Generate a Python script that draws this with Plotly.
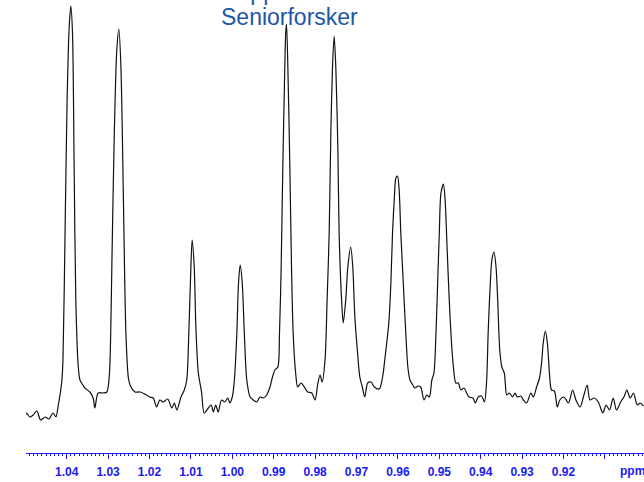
import plotly.graph_objects as go

# Chemical shift (ppm) and intensity (arbitrary units)
ppm = [
    1.0501, 1.0497, 1.0489, 1.0481, 1.0472, 1.0463, 1.0452, 1.0443, 1.0433, 1.0426,
    1.0421, 1.0412, 1.0409, 1.0404, 1.0399, 1.0394, 1.0390, 1.0386, 1.0382, 1.0378,
    1.0372, 1.0368, 1.0364, 1.0356, 1.0344, 1.0336, 1.0332, 1.0324, 1.0312, 1.0303,
    1.0297, 1.0294, 1.0291, 1.0285, 1.0279, 1.0274, 1.0269, 1.0263, 1.0257, 1.0251,
    1.0247, 1.0235, 1.0223, 1.0207, 1.0199, 1.0191, 1.0183, 1.0175, 1.0167, 1.0156,
    1.0146, 1.0140, 1.0134, 1.0124, 1.0116, 1.0110, 1.0105, 1.0100, 1.0097, 1.0092,
    1.0088, 1.0082, 1.0074, 1.0068, 1.0058, 1.0051, 1.0046, 1.0040, 1.0034, 1.0026,
    1.0018, 1.0011, 1.0006, 1.0000, 0.9995, 0.9989, 0.9985, 0.9981, 0.9976, 0.9971,
    0.9965, 0.9957, 0.9949, 0.9941, 0.9933, 0.9925, 0.9917, 0.9909, 0.9903, 0.9897,
    0.9890, 0.9886, 0.9882, 0.9878, 0.9874, 0.9871, 0.9869, 0.9865, 0.9861, 0.9857,
    0.9853, 0.9847, 0.9842, 0.9834, 0.9826, 0.9818, 0.9808, 0.9800, 0.9794, 0.9788,
    0.9783, 0.9776, 0.9771, 0.9766, 0.9762, 0.9758, 0.9754, 0.9750, 0.9745, 0.9742,
    0.9736, 0.9732, 0.9726, 0.9721, 0.9714, 0.9709, 0.9704, 0.9698, 0.9692, 0.9686,
    0.9680, 0.9673, 0.9665, 0.9657, 0.9645, 0.9637, 0.9631, 0.9627, 0.9622, 0.9617,
    0.9613, 0.9608, 0.9605, 0.9601, 0.9597, 0.9593, 0.9587, 0.9581, 0.9576, 0.9571,
    0.9564, 0.9559, 0.9551, 0.9545, 0.9537, 0.9530, 0.9524, 0.9518, 0.9513, 0.9508,
    0.9504, 0.9500, 0.9496, 0.9490, 0.9486, 0.9481, 0.9476, 0.9471, 0.9466, 0.9460,
    0.9454, 0.9448, 0.9440, 0.9434, 0.9428, 0.9419, 0.9413, 0.9406, 0.9398, 0.9391,
    0.9386, 0.9382, 0.9378, 0.9373, 0.9368, 0.9363, 0.9359, 0.9354, 0.9349, 0.9343,
    0.9337, 0.9331, 0.9323, 0.9317, 0.9312, 0.9303, 0.9297, 0.9289, 0.9279, 0.9273,
    0.9265, 0.9258, 0.9253, 0.9249, 0.9244, 0.9239, 0.9234, 0.9229, 0.9222, 0.9215,
    0.9209, 0.9199, 0.9188, 0.9178, 0.9170, 0.9160, 0.9152, 0.9143, 0.9136, 0.9126,
    0.9116, 0.9105, 0.9097, 0.9089, 0.9080, 0.9072, 0.9062, 0.9054, 0.9047, 0.9039,
    0.9031, 0.9022, 0.9015, 0.9007,
]
intensity = [
    -7, -3, -7, -5, -1, -10, -7, -9, -3, -7,
    3, 28, 50, 177, 310, 383, 404, 377, 243, 110,
    43, 30, 27, 22, 18, 12, 2, 17, 17, 18,
    35, 70, 143, 277, 360, 381, 343, 210, 77, 32,
    25, 18, 18, 15, 13, 12, 3, 10, 8, 11,
    2, 7, 0, 13, 20, 30, 77, 143, 170, 143,
    83, 37, 17, -3, 2, 5, -2, 5, -2, 10,
    8, 12, 7, 13, 30, 77, 127, 145, 127, 77,
    30, 13, 10, 8, 13, 12, 15, 23, 33, 40,
    43, 77, 143, 243, 327, 377, 386, 327, 243, 143,
    77, 37, 23, 27, 23, 18, 17, 10, 25, 35,
    28, 50, 110, 177, 277, 343, 374, 343, 260, 177,
    110, 87, 110, 143, 163, 143, 93, 60, 33, 23,
    13, 27, 28, 23, 21, 33, 53, 67, 87, 127,
    177, 217, 232, 234, 220, 177, 127, 77, 43, 30,
    25, 22, 24, 23, 10, 15, 13, 30, 37, 77,
    127, 177, 217, 226, 210, 160, 110, 70, 43, 27,
    27, 20, 22, 17, 13, 12, 7, 13, 14, 8,
    27, 77, 117, 150, 158, 143, 110, 60, 43, 37,
    15, 17, 13, 17, 13, 14, 10, 7, 17, 13,
    23, 32, 47, 67, 79, 67, 37, 20, 19, 3,
    10, 13, 7, 20, 10, 3, 13, 25, 10, 12,
    8, -3, 5, 0, 12, 0, 8, 13, 20, 12,
    17, 5, 7, 4,
]

tick_vals = [1.04, 1.03, 1.02, 1.01, 1.00, 0.99, 0.98, 0.97, 0.96, 0.95, 0.94, 0.93, 0.92, 0.91]
tick_text = ["1.04", "1.03", "1.02", "1.01", "1.00", "0.99", "0.98", "0.97", "0.96",
             "0.95", "0.94", "0.93", "0.92", ""]

BLUE = "#1a1af2"
TITLE_BLUE = "#1f56a8"
FONT = "Liberation Sans, Arial, sans-serif"

fig = go.Figure()
fig.add_trace(go.Scatter(
    x=ppm, y=intensity, mode="lines",
    line=dict(color="#111111", width=1.2, shape="spline", smoothing=0.8),
    hoverinfo="skip", showlegend=False,
))

fig.update_layout(
    width=644, height=482,
    margin=dict(l=26, r=0, t=0, b=29),
    paper_bgcolor="white", plot_bgcolor="white",
    font=dict(family=FONT),
    xaxis=dict(
        range=[1.04983, 0.90056],
        showgrid=False, zeroline=False,
        showline=True, linecolor=BLUE, linewidth=1,
        ticks="outside", ticklen=5, tickcolor=BLUE, tickwidth=1,
        tickvals=tick_vals, ticktext=tick_text, ticklabelstandoff=3,
        tickfont=dict(family=FONT, size=12, color=BLUE, weight="bold"),
        minor=dict(dtick=0.001, ticks="outside", ticklen=2, tickcolor=BLUE, showgrid=False),
    ),
    yaxis=dict(range=[-43, 410], visible=False),
    annotations=[
        dict(text="Seniorforsker", xref="paper", yref="paper",
             x=(289 - 26) / 618, y=(453 - 17) / 453, xanchor="center", yanchor="middle",
             showarrow=False, font=dict(family=FONT, size=23, color=TITLE_BLUE)),
        dict(text="Gruppeleder", xref="paper", yref="paper",
             x=(276 - 26) / 618, y=(453 + 8) / 453, xanchor="center", yanchor="middle",
             showarrow=False, font=dict(family=FONT, size=23, color=TITLE_BLUE)),
        dict(text="<b>ppm</b>", xref="paper", yref="paper",
             x=(632 - 26) / 618, y=-(471 - 453) / 453, xanchor="center", yanchor="middle",
             showarrow=False, font=dict(family=FONT, size=12, color=BLUE)),
    ],
)

fig.write_html("out.html", config={"displayModeBar": False},
               post_script="document.body.style.margin='0';")
